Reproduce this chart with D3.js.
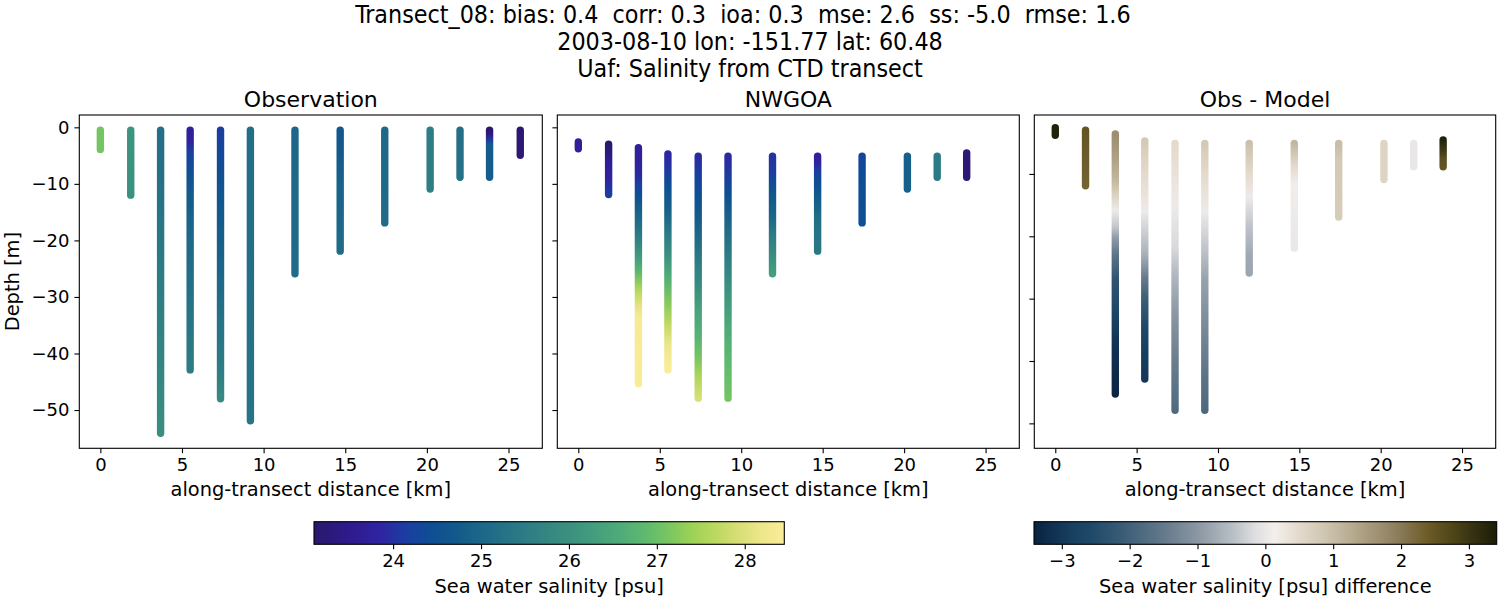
<!DOCTYPE html>
<html><head><meta charset="utf-8">
<script src="https://cdn.jsdelivr.net/npm/d3@7"></script>
<style>
body{margin:0;background:#fff}
text{font-family:"DejaVu Sans",sans-serif;fill:#000}
.sup{font-family:"DejaVu Sans Condensed","DejaVu Sans",sans-serif;font-stretch:condensed;white-space:pre}
</style>
</head><body><svg id="c" width="1500" height="600"></svg>
<script>
// ---------------- data ----------------
const titleLines = [
  "Transect_08: bias: 0.4  corr: 0.3  ioa: 0.3  mse: 2.6  ss: -5.0  rmse: 1.6  ",
  "2003-08-10 lon: -151.77 lat: 60.48",
  "Uaf: Salinity from CTD transect"
];
const panelTitles = ["Observation", "NWGOA", "Obs - Model"];
const xLabel = "along-transect distance [km]";
const yLabel = "Depth [m]";
const salLabel = "Sea water salinity [psu]";
const diffLabel = "Sea water salinity [psu] difference";

const stationKm = [0, 1.86, 3.69, 5.50, 7.36, 9.19, 11.92, 14.69, 17.42, 20.20, 22.03, 23.84, 25.72];

// [depth m, salinity psu] along each observed profile
const obsProfiles = [
  [[-0.5,27.1],[-3.9,27.1]],
  [[-0.5,26.1],[-12,26.0]],
  [[-0.5,25.2],[-10,25.25],[-20,25.4],[-30,25.55],[-40,25.7],[-54.1,25.95]],
  [[-0.5,23.7],[-2.5,23.8],[-4.5,24.2],[-8.7,24.55],[-14.6,24.85],[-20,25.05],[-32,25.3],[-42.9,25.5]],
  [[-0.5,24.15],[-4,24.3],[-8.7,24.5],[-14.6,24.7],[-23.4,24.9],[-32.3,25.2],[-43,25.5],[-48,25.85]],
  [[-0.5,25.15],[-25,25.2],[-51.9,25.3]],
  [[-0.5,25.0],[-25.9,25.1]],
  [[-0.5,24.65],[-5,24.75],[-10,24.9],[-21.9,25.1]],
  [[-0.5,25.05],[-16.9,25.1]],
  [[-0.5,25.5],[-10.9,25.55]],
  [[-0.5,25.2],[-8.85,25.25]],
  [[-0.5,23.15],[-1.2,23.3],[-2.0,24.0],[-3.0,24.75],[-8.85,24.8]],
  [[-0.5,23.15],[-4.95,23.2]]
];

// [depth m, salinity psu] along each model profile
const modelProfiles = [
  [[-2.6,23.7],[-3.8,23.7]],
  [[-3.0,23.15],[-4.5,23.3],[-6,23.65],[-9,23.8],[-10.5,24.0],[-11.9,24.15]],
  [[-3.6,23.7],[-6,23.75],[-8.7,23.95],[-10.3,24.2],[-12,24.45],[-14.6,24.85],[-19.3,25.5],[-22.2,26.1],[-25.1,26.7],[-27.5,27.3],[-29,27.65],[-31.7,28.1],[-33.5,28.35],[-45.3,28.4]],
  [[-4.7,23.85],[-7,24.05],[-10.3,24.45],[-14.6,24.85],[-19.3,25.5],[-22.9,26.05],[-27,26.7],[-31.7,27.3],[-34.7,27.7],[-38.2,28.15],[-41.7,28.4],[-42.9,28.4]],
  [[-5.1,23.9],[-8,24.15],[-11.7,24.45],[-14.6,24.65],[-19.3,25.05],[-23.4,25.45],[-27.5,25.85],[-32.3,26.4],[-37,26.75],[-40.6,27.1],[-44,27.55],[-47.9,27.95]],
  [[-5.1,23.9],[-11.7,24.45],[-17.5,25.05],[-22.2,25.45],[-29.4,26.1],[-35.3,26.55],[-41,26.85],[-47.9,27.1]],
  [[-5.1,24.0],[-8,24.15],[-10.3,24.45],[-12.6,24.7],[-15.8,25.0],[-19.3,25.5],[-22.9,25.95],[-25.9,26.3]],
  [[-5.1,23.7],[-6.3,23.8],[-7.5,24.15],[-10,24.45],[-13.5,24.85],[-16.4,25.2],[-21.9,25.4]],
  [[-5.1,24.25],[-8,24.4],[-16.9,24.45]],
  [[-5.1,24.85],[-10.9,24.85]],
  [[-5.1,25.45],[-8.85,25.45]],
  [[-4.55,23.2],[-8.85,23.2]]
];

// [depth m, obs - model psu] at model depths
const diffProfiles = [
  [[-2.6,3.3],[-3.8,3.3]],
  [[-3.0,2.5],[-11.9,2.3]],
  [[-3.6,1.7],[-7.8,1.4],[-11,1.1],[-13.1,0.7],[-15.8,0.05],[-18.5,-0.4],[-20.3,-0.95],[-23,-1.6],[-27,-2.3],[-31.8,-2.6],[-37.1,-3.1],[-45.3,-3.35]],
  [[-4.7,0.8],[-7.8,0.6],[-13.1,0.35],[-16,0.05],[-18.5,-0.25],[-22.8,-0.65],[-26.5,-1.45],[-29.8,-2.05],[-34.6,-2.6],[-38.5,-2.85],[-42.9,-3.0]],
  [[-5.1,0.5],[-10,0.35],[-15,0.05],[-21.7,-0.2],[-26,-0.55],[-32.4,-1.0],[-40.4,-1.45],[-47.9,-1.8]],
  [[-5.1,0.8],[-10,0.5],[-16,0.05],[-21.7,-0.4],[-27,-0.85],[-35,-1.25],[-43,-1.65],[-47.9,-1.85]],
  [[-5.1,0.95],[-10,0.5],[-13.7,0.05],[-18,-0.4],[-22.8,-0.75],[-25.9,-0.8]],
  [[-5.1,1.1],[-8.4,0.55],[-11.6,0.1],[-21.9,0.0]],
  [[-5.1,1.0],[-8,0.8],[-16.9,0.75]],
  [[-5.1,0.6],[-10.9,0.6]],
  [[-5.1,-0.02],[-8.85,-0.02]],
  [[-4.55,3.3],[-6,3.0],[-7.5,2.6],[-8.85,2.5]]
];

const xTicks = [0, 5, 10, 15, 20, 25];
const yTicks = [0, -10, -20, -30, -40, -50];
const diffYTicks = [-10, -20, -30, -40, -50];
const salTicks = [24, 25, 26, 27, 28];
const diffTicks = [-3, -2, -1, 0, 1, 2, 3];
const salRange = [23.1, 28.45];
const diffRange = [-3.41, 3.41];
const xRange = [-1.29, 27.07];
const depthRange = [-56.77, 2.18];
const diffDepthRange = [-54.0, -0.55];

// colormap anchors (position 0..1, colour)
const halineStops = [[0,"#2a186c"],[0.08,"#2e1b8e"],[0.14,"#2f24a2"],[0.20,"#1a3fa0"],[0.25,"#0e4e93"],[0.30,"#12598c"],[0.35,"#1c6589"],[0.40,"#257187"],[0.45,"#2e7c85"],[0.50,"#358781"],[0.55,"#3c927f"],[0.60,"#459e7d"],[0.65,"#4fab78"],[0.70,"#5db870"],[0.75,"#76c562"],[0.80,"#9ad157"],[0.85,"#bad85e"],[0.90,"#d6de74"],[0.95,"#ede68a"],[1,"#fbed9a"]];
const diffStops = [[0,"#0b2240"],[0.08,"#163f60"],[0.12,"#1e4868"],[0.20,"#3e5f77"],[0.28,"#64798b"],[0.36,"#8e9aa6"],[0.43,"#b9bfc6"],[0.48,"#e0e0e1"],[0.52,"#f3efec"],[0.57,"#e4dbcd"],[0.64,"#cbc1ab"],[0.71,"#ada083"],[0.78,"#8f8060"],[0.85,"#6d5c28"],[0.90,"#51471a"],[0.95,"#353111"],[1,"#1b1d09"]];

// ---------------- drawing ----------------
const svg = d3.select("#c");
const defs = svg.append("defs");
const R = 3.7;
const TICKFS = 18, LABFS = 19.4, TITFS = 22, SUPFS = 24.8;

function makeCmap(stops, range) {
  return d3.scaleLinear()
    .domain(stops.map(s => range[0] + s[0] * (range[1] - range[0])))
    .range(stops.map(s => s[1]))
    .interpolate(d3.interpolateRgb).clamp(true);
}
const salCmap = makeCmap(halineStops, salRange);
const diffCmap = makeCmap(diffStops, diffRange);

const panels = [
  {x0: 79.3, x1: 542.3, profiles: obsProfiles, cmap: salCmap, yDom: depthRange, yT: yTicks, labels: true},
  {x0: 557.3, x1: 1019.3, profiles: modelProfiles, cmap: salCmap, yDom: depthRange, yT: yTicks, labels: false},
  {x0: 1034.3, x1: 1495.7, profiles: diffProfiles, cmap: diffCmap, yDom: diffDepthRange, yT: diffYTicks, labels: false}
];
const Y0 = 115, Y1 = 448.3;
const fmt = d => d3.format("d")(d);

panels.forEach((p, pi) => {
  const xs = d3.scaleLinear().domain(xRange).range([p.x0, p.x1]);
  const ys = d3.scaleLinear().domain(p.yDom).range([Y1, Y0]);
  const g = svg.append("g");

  p.profiles.forEach((prof, i) => {
    const id = `g${pi}_${i}`;
    const yA = ys(prof[0][0]), yB = ys(prof[prof.length - 1][0]);
    const grad = defs.append("linearGradient").attr("id", id)
      .attr("gradientUnits", "userSpaceOnUse")
      .attr("x1", 0).attr("x2", 0).attr("y1", yA).attr("y2", yB);
    grad.selectAll("stop").data(prof).enter().append("stop")
      .attr("offset", d => (ys(d[0]) - yA) / (yB - yA))
      .attr("stop-color", d => p.cmap(d[1]));
    g.append("rect")
      .attr("x", xs(stationKm[i]) - R).attr("width", 2 * R)
      .attr("y", yA - R).attr("height", yB - yA + 2 * R)
      .attr("rx", R).attr("ry", R)
      .attr("fill", `url(#${id})`);
  });

  g.append("rect").attr("x", p.x0).attr("y", Y0).attr("width", p.x1 - p.x0).attr("height", Y1 - Y0)
    .attr("fill", "none").attr("stroke", "#000").attr("stroke-width", 1.1);

  const xa = d3.axisBottom(xs).tickValues(xTicks).tickSize(4.9).tickPadding(4.9).tickFormat(fmt);
  const gx = svg.append("g").attr("transform", `translate(0,${Y1})`).call(xa);
  gx.select(".domain").remove();
  gx.selectAll("line").attr("stroke", "#000").attr("stroke-width", 1.1);
  gx.selectAll("text").attr("font-size", TICKFS).attr("font-family", "DejaVu Sans").attr("dy", "0.71em");

  const ya = d3.axisLeft(ys).tickValues(p.yT).tickSize(4.9).tickPadding(4.9).tickFormat(p.labels ? fmt : () => "");
  const gy = svg.append("g").attr("transform", `translate(${p.x0},0)`).call(ya);
  gy.select(".domain").remove();
  gy.selectAll("line").attr("stroke", "#000").attr("stroke-width", 1.1);
  gy.selectAll("text").attr("font-size", TICKFS).attr("font-family", "DejaVu Sans");

  svg.append("text").attr("x", (p.x0 + p.x1) / 2).attr("y", 107).attr("text-anchor", "middle")
    .attr("font-size", TITFS).text(panelTitles[pi]);
  svg.append("text").attr("x", (p.x0 + p.x1) / 2).attr("y", 496).attr("text-anchor", "middle")
    .attr("font-size", LABFS).text(xLabel);
});

svg.append("text").attr("transform", `translate(19,${(Y0 + Y1) / 2}) rotate(-90)`)
  .attr("text-anchor", "middle").attr("font-size", LABFS).text(yLabel);

const supY = [23, 50, 77];
titleLines.forEach((t, i) => {
  svg.append("text").attr("class", "sup").attr("x", 750).attr("y", supY[i])
    .attr("text-anchor", "middle").attr("font-size", SUPFS).text(t);
});

function colorbar(x0, x1, range, stops, ticks, label, id) {
  const y0 = 521.7, y1 = 544.3;
  const grad = defs.append("linearGradient").attr("id", id)
    .attr("gradientUnits", "userSpaceOnUse").attr("x1", x0).attr("x2", x1).attr("y1", 0).attr("y2", 0);
  grad.selectAll("stop").data(stops).enter().append("stop")
    .attr("offset", d => d[0]).attr("stop-color", d => d[1]);
  svg.append("rect").attr("x", x0).attr("y", y0).attr("width", x1 - x0).attr("height", y1 - y0)
    .attr("fill", `url(#${id})`).attr("stroke", "#000").attr("stroke-width", 1.1);
  const s = d3.scaleLinear().domain(range).range([x0, x1]);
  const ax = d3.axisBottom(s).tickValues(ticks).tickSize(4.9).tickPadding(4.9).tickFormat(fmt);
  const ga = svg.append("g").attr("transform", `translate(0,${y1})`).call(ax);
  ga.select(".domain").remove();
  ga.selectAll("line").attr("stroke", "#000").attr("stroke-width", 1.1);
  ga.selectAll("text").attr("font-size", TICKFS).attr("font-family", "DejaVu Sans").attr("dy", "0.71em");
  svg.append("text").attr("x", (x0 + x1) / 2).attr("y", 593).attr("text-anchor", "middle")
    .attr("font-size", LABFS).text(label);
}
colorbar(314, 784.3, salRange, halineStops, salTicks, salLabel, "cb1");
colorbar(1034, 1496.7, diffRange, diffStops, diffTicks, diffLabel, "cb2");
</script>
</body></html>
